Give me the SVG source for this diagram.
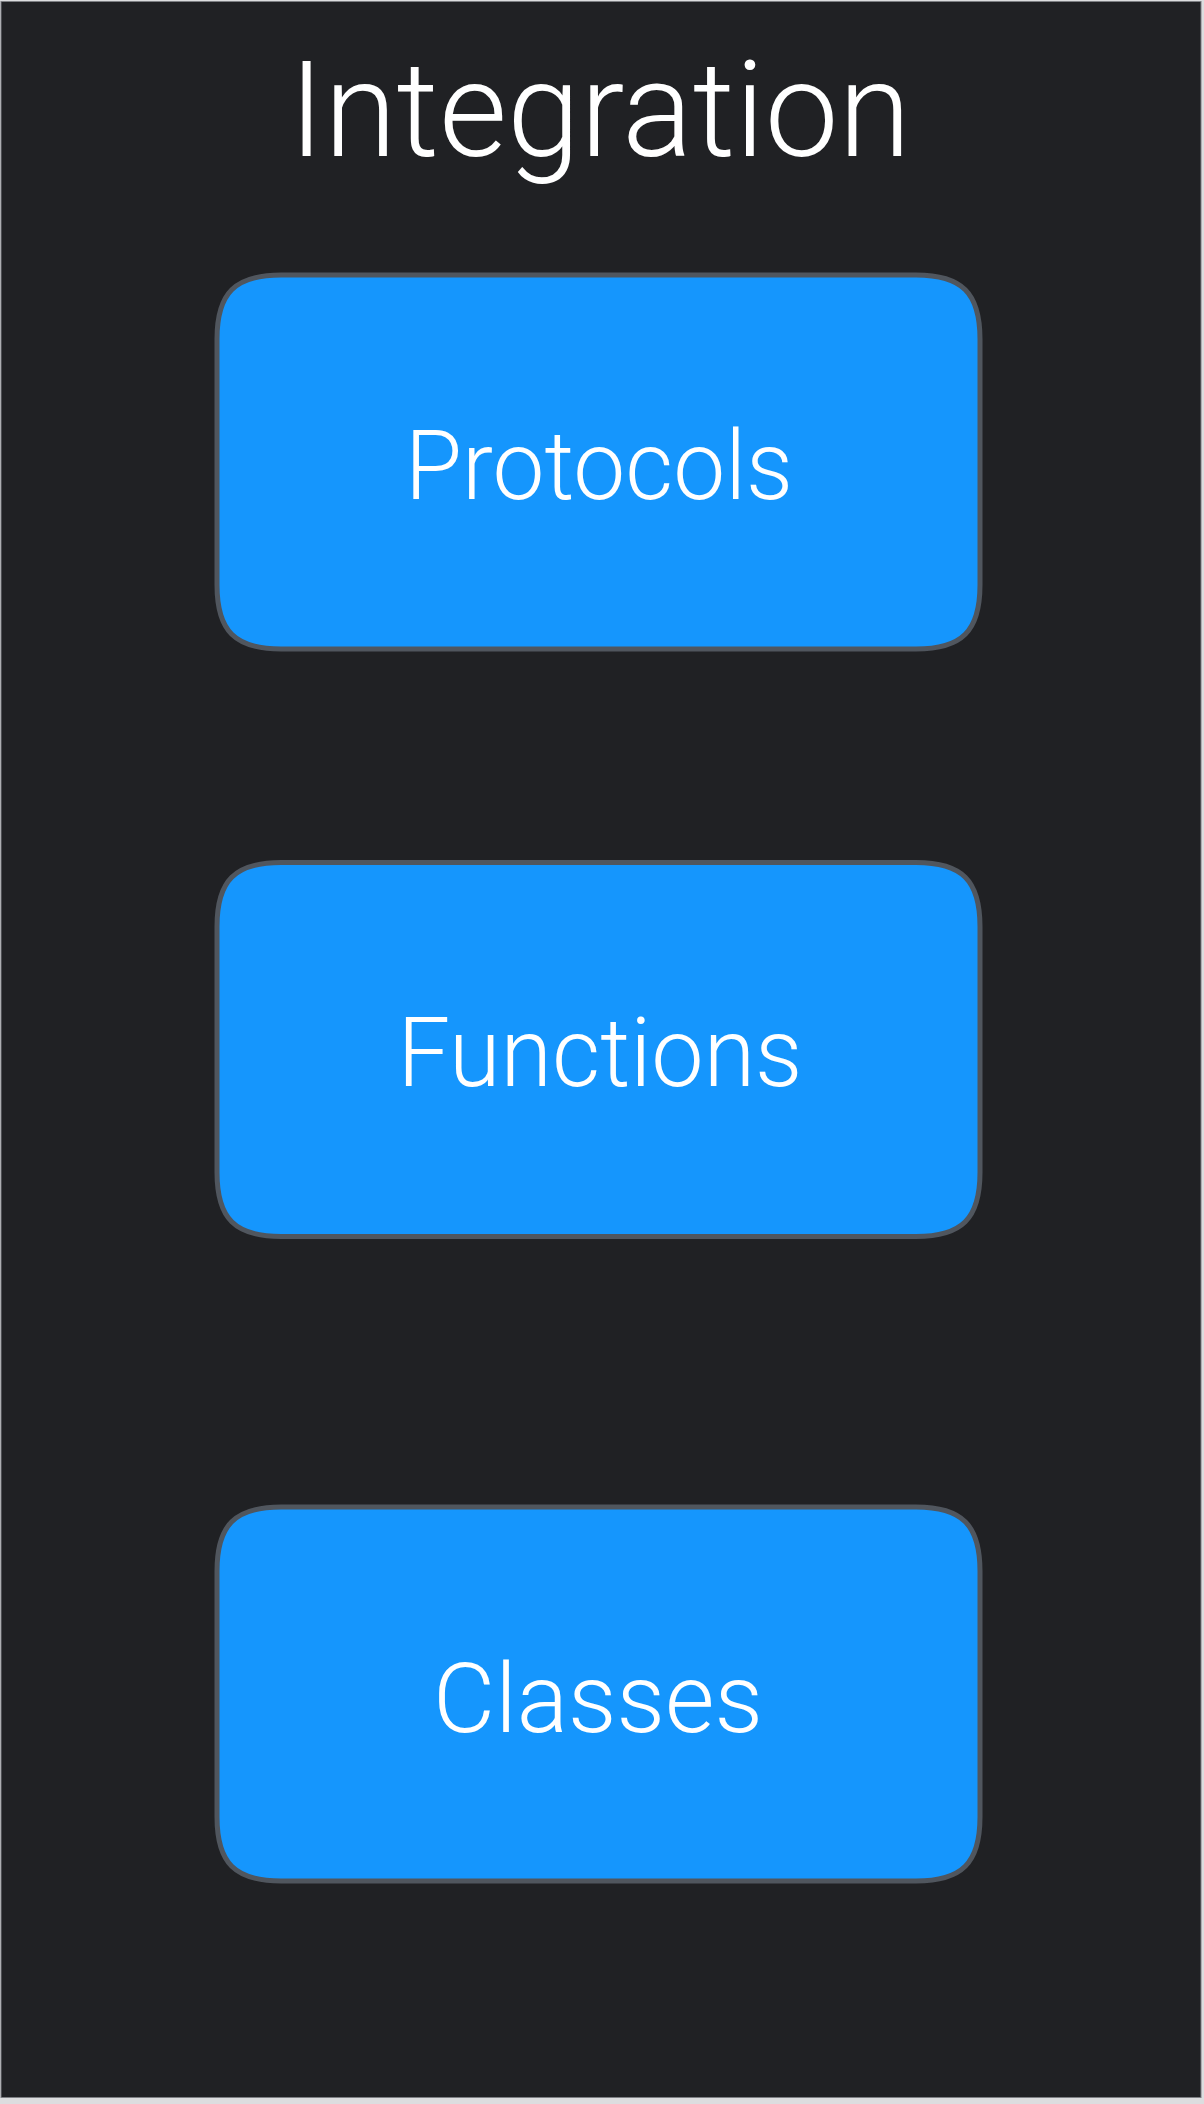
<svg xmlns="http://www.w3.org/2000/svg" width="1204" height="2104" viewBox="0 0 1204 2104">
<style>
.box{fill:#1596fd;stroke:#50565e;stroke-width:5}
.lbl{font-family:Roboto,"Liberation Sans",Arial,sans-serif;font-weight:300;fill:#ffffff;text-anchor:middle;font-size:97px}
.title{font-family:Roboto,"Liberation Sans",Arial,sans-serif;font-weight:300;fill:#ffffff;text-anchor:middle;font-size:133px}
</style>
<defs>
<path id="shape" d="M64,0 H699 C745,0 763,18 763,64 V310 C763,356 745,374 699,374 H64 C18,374 0,356 0,310 V64 C0,18 18,0 64,0 Z"/>
</defs>
<rect x="0" y="0" width="1204" height="2104" fill="#dcdddf"/>
<rect x="1" y="1.5" width="1200" height="2096" fill="#202124" stroke="#7d7f83" stroke-width="1"/>
<text class="title" x="600" y="156" textLength="622" lengthAdjust="spacingAndGlyphs">Integration</text>
<g id="protocols">
<use href="#shape" class="box" x="217" y="275"/>
<text class="lbl" x="599" y="499" textLength="388" lengthAdjust="spacingAndGlyphs">Protocols</text>
</g>
<g id="functions">
<use href="#shape" class="box" x="217" y="862.5"/>
<text class="lbl" x="600" y="1086" textLength="405" lengthAdjust="spacingAndGlyphs">Functions</text>
</g>
<g id="classes">
<use href="#shape" class="box" x="217" y="1507"/>
<text class="lbl" x="598" y="1732" textLength="330" lengthAdjust="spacingAndGlyphs">Classes</text>
</g>
<g id="connectors"/>
</svg>
